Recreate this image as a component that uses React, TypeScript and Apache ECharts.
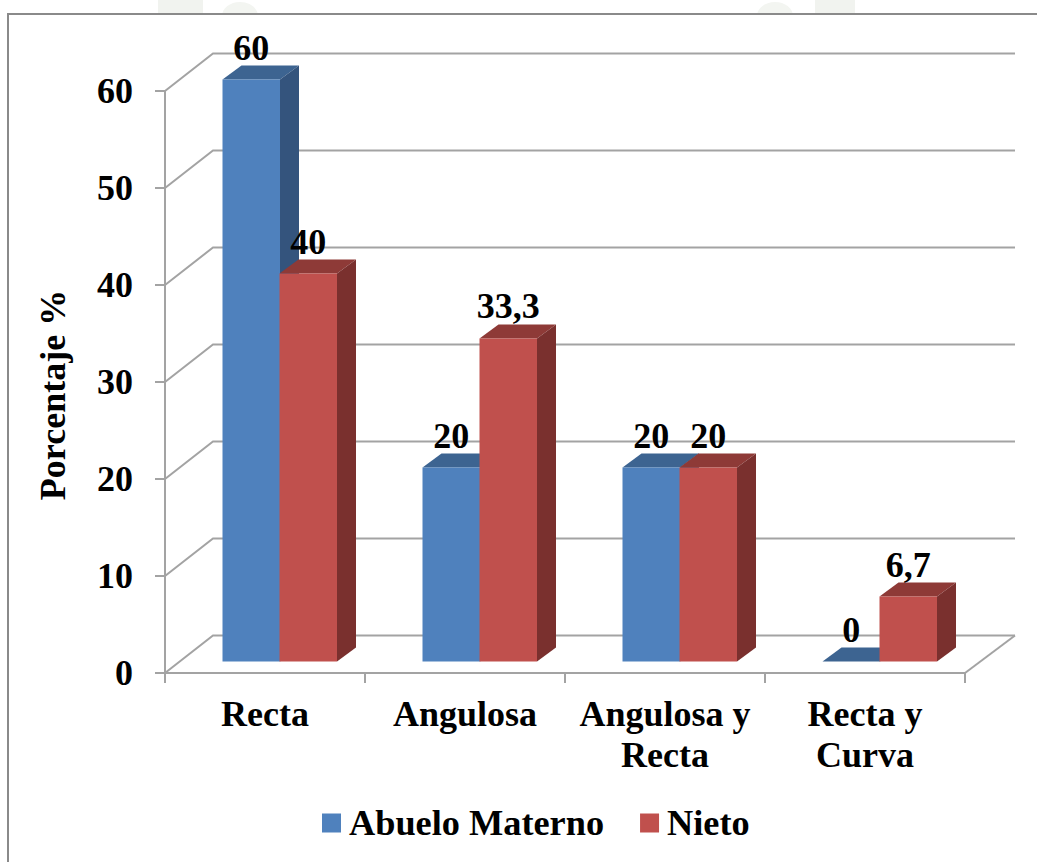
import React, { useEffect, useRef } from "react";
import * as echarts from "echarts";

const categories = ["Recta", "Angulosa", "Angulosa y\nRecta", "Recta y\nCurva"];
const abueloValues = [60, 20, 20, 0];
const nietoValues = [40, 33.3, 20, 6.7];
const yTicks = [0, 10, 20, 30, 40, 50, 60];

const FONT = '"Liberation Serif", "Times New Roman", serif';
const GRID_COLOR = "#a3a3a3";
const wallDx = 48, wallDy = -37.5;
const depthDx = 19, depthDy = -14;
const floorDy = -11.5;
const barWidth = 57.5;

const fmt = (v: number) => String(v).replace(".", ",");

function barSeries(name: string, values: number[], leftOffset: number, front: string, top: string, side: string) {
  return {
    type: "custom",
    name,
    coordinateSystem: "cartesian2d",
    clip: false,
    z: 3,
    itemStyle: { color: front },
    encode: { x: 0, y: 1 },
    data: values.map((v, i) => [i, v]),
    renderItem: (_p: any, api: any) => {
      const i = api.value(0);
      const v = api.value(1);
      const [cx, yTop0] = api.coord([i, v]);
      const [, yBase0] = api.coord([i, 0]);
      const x0 = cx + leftOffset;
      const x1 = x0 + barWidth;
      const yT = yTop0 + floorDy;
      const yB = yBase0 + floorDy;
      const children: any[] = [
        { type: "polygon", shape: { points: [[x0, yT], [x1, yT], [x1 + depthDx, yT + depthDy], [x0 + depthDx, yT + depthDy]] }, style: { fill: top } },
        { type: "polygon", shape: { points: [[x1, yT], [x1 + depthDx, yT + depthDy], [x1 + depthDx, yB + depthDy], [x1, yB]] }, style: { fill: side } },
        { type: "rect", shape: { x: x0, y: yT, width: barWidth, height: yB - yT }, style: { fill: front } },
        {
          type: "text",
          z2: 10,
          style: {
            text: fmt(v),
            x: (x0 + x1) / 2,
            y: yT - 32,
            align: "center",
            verticalAlign: "middle",
            font: `bold 36px ${FONT}`,
            fill: "#000",
          },
        },
      ];
      return { type: "group", children };
    },
  };
}

const wallSeries = {
  type: "custom",
  name: "walls",
  coordinateSystem: "cartesian2d",
  clip: false,
  z: 1,
  silent: true,
  encode: { x: 0, y: 1 },
  data: yTicks.map((t) => [0, t]),
  renderItem: (_p: any, api: any) => {
    const t = api.value(1);
    const [cx, y] = api.coord([0, t]);
    const band = api.size([1, 0])[0];
    const x0 = cx - band / 2;
    const xEnd = x0 + band * categories.length;
    const lineStyle = { stroke: GRID_COLOR, lineWidth: 2, fill: "none" };
    const children: any[] = [
      {
        type: "polyline",
        shape: { points: [[x0, y], [x0 + wallDx, y + wallDy], [xEnd + wallDx + 2, y + wallDy]] },
        style: lineStyle,
      },
    ];
    if (t === 0) {
      children.push({
        type: "polyline",
        shape: { points: [[xEnd, y], [xEnd + wallDx + 2, y + wallDy]] },
        style: lineStyle,
      });
    }
    return { type: "group", children };
  },
};

export default function App() {
  const ref = useRef<HTMLDivElement>(null);
  useEffect(() => {
    document.body.style.margin = "0";
    const chart = echarts.init(ref.current!, undefined, { renderer: "svg" });
    chart.setOption({
      animation: false,
      backgroundColor: "#ffffff",
      textStyle: { fontFamily: FONT },
      grid: { left: 165, top: 91, width: 800, height: 582 },
      legend: {
        left: 317,
        top: 800,
        data: ["Abuelo Materno", "Nieto"],
        icon: "rect",
        itemWidth: 19,
        itemHeight: 19,
        itemGap: 36,
        textStyle: { fontFamily: FONT, fontWeight: "bold", fontSize: 36.3, color: "#000", padding: [0, 0, 0, 3] },
      },
      xAxis: {
        type: "category",
        data: categories,
        boundaryGap: true,
        axisLine: { lineStyle: { color: GRID_COLOR, width: 2 } },
        axisTick: { show: true, alignWithLabel: false, length: 10, lineStyle: { color: GRID_COLOR, width: 2 } },
        axisLabel: { fontFamily: FONT, fontWeight: "bold", fontSize: 36, color: "#000", lineHeight: 41, margin: 20, interval: 0 },
      },
      yAxis: {
        type: "value",
        min: 0,
        max: 60,
        interval: 10,
        name: "Porcentaje %",
        nameLocation: "middle",
        nameGap: 94,
        nameRotate: 90,
        nameTextStyle: { fontFamily: FONT, fontWeight: "bold", fontSize: 36, color: "#000", padding: [0, 26, 0, 0] },
        splitLine: { show: false },
        axisLine: { show: true, lineStyle: { color: GRID_COLOR, width: 2 } },
        axisTick: { show: true, length: 10, lineStyle: { color: GRID_COLOR, width: 2 } },
        axisLabel: { fontFamily: FONT, fontWeight: "bold", fontSize: 36, color: "#000", margin: 32 },
      },
      graphic: [
        { type: "rect", silent: true, z: -2, shape: { x: 158, y: 0, width: 45, height: 13 }, style: { fill: "#f1f3ef" } },
        { type: "ellipse", silent: true, z: -2, shape: { cx: 240, cy: 16, rx: 18, ry: 14 }, style: { fill: "#f3f5f1" } },
        { type: "rect", silent: true, z: -2, shape: { x: 815, y: 0, width: 40, height: 13 }, style: { fill: "#f1f3ef" } },
        { type: "ellipse", silent: true, z: -2, shape: { cx: 775, cy: 16, rx: 18, ry: 14 }, style: { fill: "#f3f5f1" } },
        { type: "rect", silent: true, z: -1, shape: { x: 0, y: 14, width: 1038, height: 848 }, style: { fill: "#fff" } },
        { type: "polyline", silent: true, z: 0, shape: { points: [[8, 862], [8, 14], [1037, 14]] }, style: { stroke: "#8a8a8a", lineWidth: 2, fill: "none" } },
      ],
      series: [
        wallSeries,
        barSeries("Abuelo Materno", abueloValues, -42.5, "#4f81bd", "#3d6491", "#34547d"),
        barSeries("Nieto", nietoValues, 14.5, "#c0504d", "#8e3a37", "#7a302e"),
      ],
    });
    return () => chart.dispose();
  }, []);
  return <div ref={ref} style={{ width: 1038, height: 862 }} />;
}
